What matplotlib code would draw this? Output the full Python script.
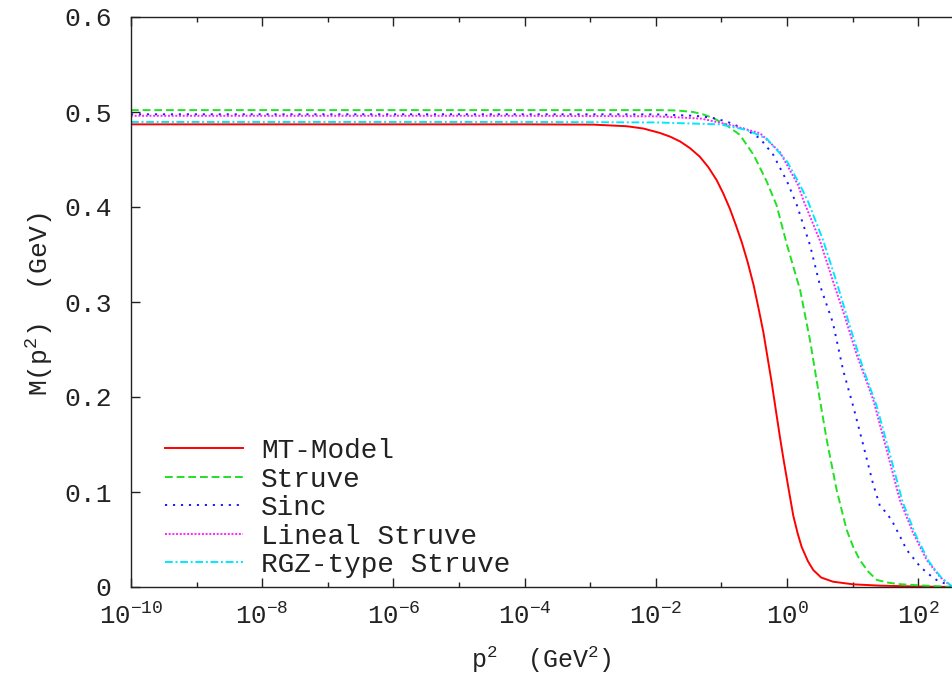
import matplotlib
matplotlib.use("Agg")
import matplotlib.pyplot as plt
from matplotlib.ticker import FixedLocator, FuncFormatter, NullFormatter
import numpy as np

plt.rcParams['font.family'] = ['Liberation Mono', 'DejaVu Sans Mono']
plt.rcParams['mathtext.fontset'] = 'custom'
plt.rcParams['mathtext.rm'] = 'Liberation Mono'
plt.rcParams['mathtext.it'] = 'Liberation Mono'
plt.rcParams['mathtext.bf'] = 'Liberation Mono'

# Dynamical quark mass M(p^2) for several interaction models.
# Abscissae are given as log10(p^2 / GeV^2).
mt_logp2 = [-10, -4, -2.95, -2.44, -2.19, -1.94, -1.78, -1.63, -1.48, -1.33, -1.20, -1.07,
            -0.97, -0.87, -0.78, -0.69, -0.60, -0.51, -0.43, -0.36, -0.30, -0.233, -0.17,
            -0.106, -0.05, 0.0, 0.05, 0.096, 0.16, 0.224, 0.32, 0.40, 0.52, 0.70, 1.01,
            1.42, 2.0, 2.52]
mt_mass = [0.487, 0.487, 0.4867, 0.485, 0.4826, 0.478, 0.474, 0.469, 0.462, 0.453, 0.442, 0.428,
           0.414, 0.398, 0.381, 0.363, 0.342, 0.318, 0.292, 0.268, 0.243, 0.215, 0.186,
           0.157, 0.133, 0.113, 0.093, 0.075, 0.057, 0.042, 0.027, 0.0179, 0.010, 0.0056, 0.0028,
           0.0014, 0.0005, 0.0]

struve_logp2 = [-10, -4, -1.94, -1.68, -1.43, -1.28, -1.12, -0.92, -0.72, -0.51, -0.31, -0.16,
                0.0, 0.20, 0.35, 0.477, 0.605, 0.757, 0.91, 1.01, 1.11, 1.24, 1.37, 1.55, 1.71,
                2.0, 2.23, 2.52]
struve_mass = [0.502, 0.502, 0.502, 0.5016, 0.500, 0.4975, 0.4935, 0.486, 0.476, 0.455, 0.427,
               0.402, 0.360, 0.3126, 0.260, 0.207, 0.155, 0.102, 0.060, 0.042, 0.0284, 0.016,
               0.0074, 0.0045, 0.003, 0.0018, 0.001, 0.0]

sinc_logp2 = [-10, -4, -2.0, -1.4, -1.15, -0.92, -0.61, -0.41, -0.21, 0.0, 0.15, 0.35, 0.50,
              0.70, 0.856, 1.01, 1.16, 1.31, 1.42, 1.52, 1.62, 1.725, 1.825, 1.93, 2.03, 2.15,
              2.28, 2.46, 2.52]
sinc_mass = [0.4976, 0.4976, 0.4975, 0.496, 0.494, 0.490, 0.481, 0.472, 0.455, 0.427, 0.402,
             0.360, 0.318, 0.278, 0.228, 0.190, 0.150, 0.109, 0.0845, 0.078, 0.067, 0.053, 0.039,
             0.030, 0.0214, 0.014, 0.0074, 0.002, 0.0005]

lineal_logp2 = [-10, -4, -2.0, -1.3, -0.82, -0.41, -0.11, 0.17, 0.25, 0.50, 0.71, 0.856,
                1.06, 1.315, 1.52, 1.72, 1.925, 2.13, 2.33, 2.48, 2.52]
lineal_mass = [0.496, 0.496, 0.4955, 0.493, 0.4856, 0.4776, 0.458, 0.423, 0.407, 0.365, 0.320,
               0.290, 0.245, 0.197, 0.144, 0.0916, 0.0565, 0.0284, 0.0108, 0.002, 0.0]

rgz_logp2 = [-10, -4, -2.0, -1.02, -0.61, -0.31, 0.0, 0.2, 0.325, 0.55, 0.76, 0.96,
             1.16, 1.36, 1.56, 1.76, 1.96, 2.16, 2.35, 2.49, 2.52]
rgz_mass = [0.4895, 0.4895, 0.489, 0.487, 0.481, 0.472, 0.448, 0.423, 0.405, 0.365, 0.320,
            0.274, 0.230, 0.192, 0.142, 0.0900, 0.0550, 0.0270, 0.0100, 0.002, 0.0]

labels = ["MT-Model", "Struve", "Sinc", "Lineal Struve", "RGZ-type Struve"]
y_ticks = [0, 0.1, 0.2, 0.3, 0.4, 0.5, 0.6]
y_tick_labels = ["0", "0.1", "0.2", "0.3", "0.4", "0.5", "0.6"]
x_major_exp = [-10, -8, -6, -4, -2, 0, 2]
x_minor_exp = [-9, -7, -5, -3, -1, 1]

series = [
    (mt_logp2, mt_mass, dict(color='#ff0000', linestyle='-')),
    (struve_logp2, struve_mass, dict(color='#22e022', linestyle=(0, (4.0, 2.0)))),
    (sinc_logp2, sinc_mass, dict(color='#1a1aff', linestyle=(0, (1.1, 3.0)))),
    (lineal_logp2, lineal_mass, dict(color='#ff22ff', linestyle=(0, (1.0, 0.9)))),
    (rgz_logp2, rgz_mass, dict(color='#00e8ff', linestyle=(0, (4.0, 1.4, 1.0, 1.4)))),
]

W, H = 952, 678
fig = plt.figure(figsize=(W / 100, H / 100), dpi=100)
left, right, top, bottom = 131, 952, 17, 587
ax = fig.add_axes([left / W, (H - bottom) / H, (right - left) / W, (bottom - top) / H])

text_color = '#222222'
for lp, m, style in series:
    ax.plot(10.0 ** np.asarray(lp), m, lw=1.4, **style)

ax.set_xscale('log')
ax.set_xlim(1e-10, 10 ** 2.515)
ax.set_ylim(0, 0.6)

ax.xaxis.set_major_locator(FixedLocator([10.0 ** e for e in x_major_exp]))
ax.xaxis.set_minor_locator(FixedLocator([10.0 ** e for e in x_minor_exp]))
ax.xaxis.set_major_formatter(FuncFormatter(
    lambda v, pos: r"$\mathregular{10^{%d}}$" % int(round(np.log10(v)))))
ax.xaxis.set_minor_formatter(NullFormatter())
ax.set_yticks(y_ticks)
ax.set_yticklabels(y_tick_labels)

ax.tick_params(axis='both', which='both', direction='in', colors=text_color,
               labelcolor=text_color)
ax.tick_params(axis='x', which='both', top=True, bottom=True, labelsize=18.5)
ax.tick_params(axis='y', which='both', left=True, right=False, labelsize=19)
ax.tick_params(which='major', length=6.5, width=1.0)
ax.tick_params(which='minor', length=3.5, width=1.0)
ax.tick_params(axis='x', which='major', pad=11.5)
ax.tick_params(axis='y', which='major', pad=14)

for s in ('left', 'top', 'bottom'):
    ax.spines[s].set_color(text_color)
    ax.spines[s].set_linewidth(1.0)
ax.spines['right'].set_visible(False)

ax.set_xlabel(r"p$^{\mathregular{2}}$  (GeV$^{\mathregular{2}}$)", fontsize=18, color=text_color)
ax.set_ylabel(r"M(p$^{\mathregular{2}}$)  (GeV)", fontsize=19, color=text_color)
ax.xaxis.set_label_coords(0.5, -0.10)
ax.yaxis.set_label_coords(-0.0925, 0.497)

leg = ax.legend(labels, loc='upper left', bbox_to_anchor=(0.0414, 0.2614), frameon=False,
                fontsize=20, handlelength=2.8, handletextpad=0.65, labelspacing=0.09,
                borderaxespad=0.0, borderpad=0.0)
for t in leg.get_texts():
    t.set_color(text_color)

fig.savefig("out.png", dpi=100)
